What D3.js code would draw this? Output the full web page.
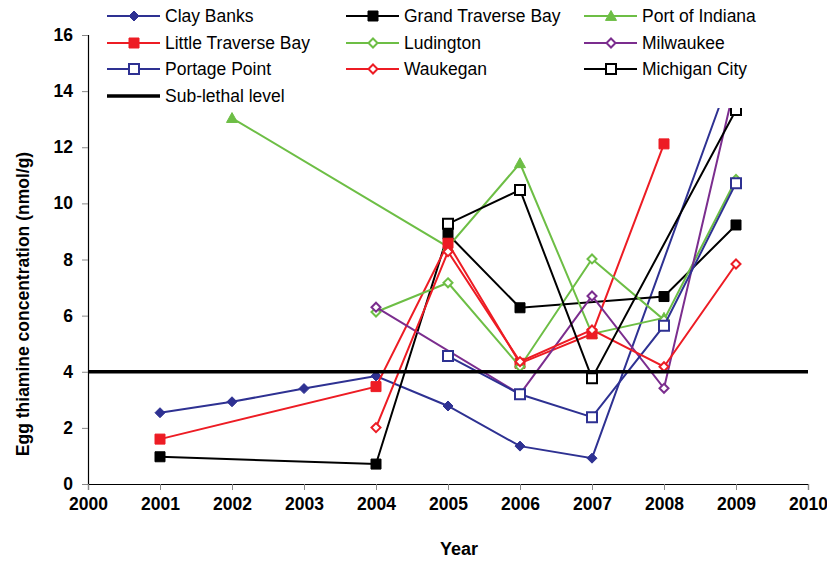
<!DOCTYPE html>
<html>
<head>
<meta charset="utf-8">
<script src="https://cdn.jsdelivr.net/npm/d3@7"></script>
<style>
  html, body { margin: 0; padding: 0; background: #fff; }
  svg { display: block; font-family: "Liberation Sans", Arial, sans-serif; }
</style>
</head>
<body>
<svg id="chart" width="827" height="561"></svg>
<script>
// Sampling years
const years = [2001, 2002, 2003, 2004, 2005, 2006, 2007, 2008, 2009];

// Egg thiamine concentration (nmol/g) per site; null = not sampled
const clayBanks        = [2.54, 2.93, 3.40, 3.85, 2.78, 1.35, 0.92, null, 15.1];
const grandTraverseBay = [0.97, null, null, 0.71, 8.90, 6.28, null, 6.68, 9.23];
const portOfIndiana    = [null, 13.04, null, null, 8.45, 11.43, 5.35, 5.92, null];
const littleTraverseBay= [1.60, null, null, 3.47, 8.58, 4.30, 5.35, 12.12, null];
const ludington        = [null, null, null, 6.13, 7.17, 4.18, 8.02, 5.85, 10.85];
const milwaukee        = [null, null, null, 6.30, null, 3.20, 6.70, 3.41, 14.4];
const portagePoint     = [null, null, null, null, 4.56, 3.20, 2.38, 5.64, 10.72];
const waukegan         = [null, null, null, 2.01, 8.28, 4.36, 5.49, 4.18, 7.84];
const michiganCity     = [null, null, null, null, 9.27, 10.48, 3.77, null, 13.33];

const subLethalLevel = 4;

const xTicks = d3.range(2000, 2011, 1);
const yTicks = d3.range(0, 17, 2);

const seriesNames = ["Clay Banks", "Grand Traverse Bay", "Port of Indiana",
  "Little Traverse Bay", "Ludington", "Milwaukee",
  "Portage Point", "Waukegan", "Michigan City"];
const seriesValues = [clayBanks, grandTraverseBay, portOfIndiana,
  littleTraverseBay, ludington, milwaukee,
  portagePoint, waukegan, michiganCity];

const NAVY = "#2e3192", BLACK = "#000000", GREEN = "#6dbe45",
      RED = "#ed1c24", PURPLE = "#7b2d8e";

// marker style per series: shape, stroke colour, filled or hollow
const styles = [
  { color: NAVY,   shape: "diamond",  filled: true,  width: 2 },
  { color: BLACK,  shape: "square",   filled: true,  width: 2 },
  { color: GREEN,  shape: "triangle", filled: true,  width: 2 },
  { color: RED,    shape: "square",   filled: true,  width: 2 },
  { color: GREEN,  shape: "diamond",  filled: false, width: 2 },
  { color: PURPLE, shape: "diamond",  filled: false, width: 2 },
  { color: NAVY,   shape: "square",   filled: false, width: 2 },
  { color: RED,    shape: "diamond",  filled: false, width: 2 },
  { color: BLACK,  shape: "square",   filled: false, width: 2 }
];

const series = seriesNames.map((name, i) => ({
  name,
  style: styles[i],
  points: years.map((y, j) => ({ year: y, value: seriesValues[i][j] }))
              .filter(p => p.value !== null)
}));

const svg = d3.select("#chart");
const x = d3.scaleLinear().domain([2000, 2010]).range([88, 808]);
const y = d3.scaleLinear().domain([0, 16]).range([484, 35]);

// axes
const yAxis = d3.axisLeft(y).tickValues(yTicks).tickSize(6).tickPadding(9);
const xAxis = d3.axisBottom(x).tickValues(xTicks).tickSize(6).tickPadding(8)
  .tickFormat(d3.format("d"));

const gy = svg.append("g").attr("transform", "translate(88,0)").call(yAxis);
const gx = svg.append("g").attr("transform", "translate(0,484)").call(xAxis);
[gx, gy].forEach(g => {
  g.select(".domain").attr("stroke", "#000").attr("stroke-width", 1.2);
  g.selectAll(".tick line").attr("stroke", "#888").attr("stroke-width", 1);
  g.selectAll(".tick text").attr("fill", "#000")
    .attr("font-size", 17.5).attr("font-weight", "bold")
    .attr("font-family", "'Liberation Sans', Arial, sans-serif");
});

function shapePath(shape, size) {
  const s = size / 2;
  if (shape === "diamond") return `M0,${-s}L${s},0L0,${s}L${-s},0Z`;
  if (shape === "square") return `M${-s},${-s}H${s}V${s}H${-s}Z`;
  return `M0,${-s}L${s},${s * 0.8}L${-s},${s * 0.8}Z`;
}
function markerSize(st) {
  if (st.shape === "triangle") return 11;
  if (st.shape === "diamond") return st.filled ? 10 : 9;
  return 10;
}

const line = d3.line().x(d => x(d.year)).y(d => y(d.value));

const plot = svg.append("g");
series.forEach(s => {
  const g = plot.append("g");
  g.append("path").datum(s.points)
    .attr("d", line)
    .attr("fill", "none")
    .attr("stroke", s.style.color)
    .attr("stroke-width", s.style.width)
    .attr("stroke-linejoin", "miter");
  g.selectAll("path.m").data(s.points).join("path")
    .attr("class", "m")
    .attr("transform", d => `translate(${x(d.year)},${y(d.value)})`)
    .attr("d", shapePath(s.style.shape, markerSize(s.style)))
    .attr("fill", s.style.filled ? s.style.color : "#fff")
    .attr("stroke", s.style.color)
    .attr("stroke-width", s.style.filled ? 1 : 2);
});

// sub-lethal threshold
plot.append("line")
  .attr("x1", x(2000)).attr("x2", x(2010))
  .attr("y1", y(subLethalLevel)).attr("y2", y(subLethalLevel))
  .attr("stroke", "#000").attr("stroke-width", 3.5);

// legend
const legend = svg.append("g");
legend.append("rect").attr("x", 90).attr("y", 0).attr("width", 700).attr("height", 108)
  .attr("fill", "#fff");
const colText = [165, 404, 642];
const rowY = [16, 43, 69, 96];
const legendItems = series.map(s => ({ name: s.name, style: s.style }))
  .concat([{ name: "Sub-lethal level", style: null }]);
legendItems.forEach((item, i) => {
  const col = i % 3, row = Math.floor(i / 3);
  const tx = colText[col], ty = rowY[row];
  const g = legend.append("g");
  if (item.style) {
    g.append("line").attr("x1", tx - 58).attr("x2", tx - 5).attr("y1", ty).attr("y2", ty)
      .attr("stroke", item.style.color).attr("stroke-width", 2);
    g.append("path").attr("transform", `translate(${tx - 31},${ty})`)
      .attr("d", shapePath(item.style.shape, markerSize(item.style)))
      .attr("fill", item.style.filled ? item.style.color : "#fff")
      .attr("stroke", item.style.color)
      .attr("stroke-width", item.style.filled ? 1 : 2);
  } else {
    g.append("line").attr("x1", tx - 58).attr("x2", tx - 5).attr("y1", ty).attr("y2", ty)
      .attr("stroke", "#000").attr("stroke-width", 3.5);
  }
  g.append("text").attr("x", tx).attr("y", ty).attr("dy", "0.35em")
    .attr("font-size", 17.5).attr("fill", "#000").text(item.name);
});

// axis titles
svg.append("text").attr("x", 459).attr("y", 555)
  .attr("text-anchor", "middle").attr("font-size", 18).attr("font-weight", "bold")
  .text("Year");
svg.append("text")
  .attr("transform", "translate(29,304) rotate(-90)")
  .attr("text-anchor", "middle").attr("font-size", 17.5).attr("font-weight", "bold")
  .text("Egg thiamine concentration (nmol/g)");
</script>
</body>
</html>
